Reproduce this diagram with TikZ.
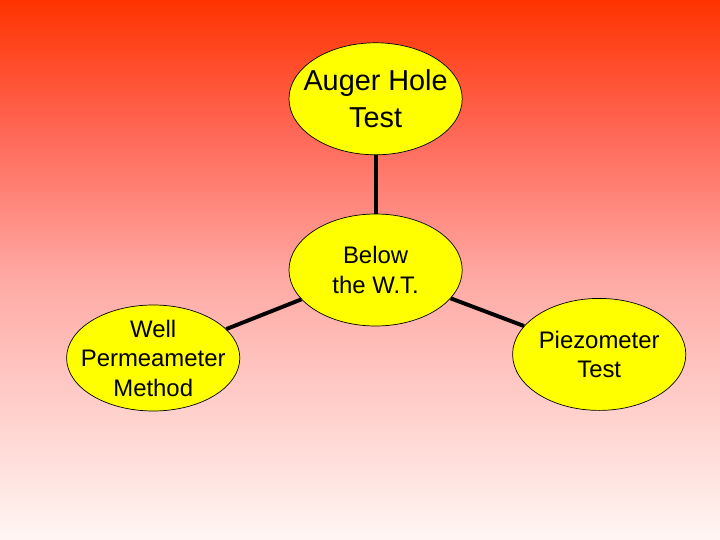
\documentclass[tikz,border=0pt]{standalone}
\usepackage{fontspec}
\setmainfont{Liberation Sans}
\usetikzlibrary{shapes.geometric, positioning}

\definecolor{bgtop}{RGB}{255,51,0}
\definecolor{bgupper}{RGB}{255,102,85}
\definecolor{bgmid}{RGB}{255,170,165}
\definecolor{bgbot}{RGB}{255,246,243}
\definecolor{bubblefill}{RGB}{255,255,0}

\pgfdeclareverticalshading{slidebg}{100bp}{color(0bp)=(bgbot); color(25bp)=(bgbot);
  color(49bp)=(bgmid); color(63bp)=(bgupper); color(75bp)=(bgtop); color(100bp)=(bgtop)}

\begin{document}
\begin{tikzpicture}[
    bubble/.style={
        ellipse,
        draw=black, line width=0.5pt,
        fill=bubblefill,
        minimum width=4.33cm,
        minimum height=2.8cm,
        inner xsep=-30pt, inner ysep=-12pt,
        align=center,
        font=\fontsize{17}{21}\selectfont
    },
    link/.style={
        line width=2.8pt, draw=black
    }
]

% background
\shade[shading=slidebg] (0,0) rectangle (18,13.5);
\useasboundingbox (0,0) rectangle (18,13.5);

\node (below) [bubble] at (9.39,6.75) {Below\\the W.T.};
\node (auger) [bubble, font=\fontsize{20.5}{26}\selectfont] at (9.39,11.03) {Auger Hole\\Test};
\node (well) [bubble, minimum height=2.65cm] at (3.83,4.55) {Well\\Permeameter\\Method};
\node (piezo) [bubble] at (14.98,4.64) {Piezometer\\Test};

\draw [link] (auger) -- (below);
\draw [link] (below) -- (well);
\draw [link] (below) -- (piezo);

\end{tikzpicture}
\end{document}
